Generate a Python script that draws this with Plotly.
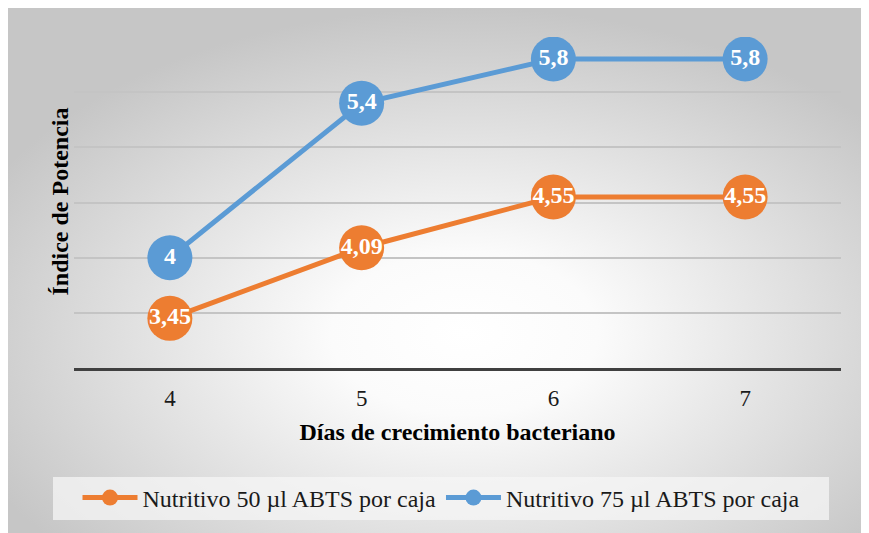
import base64
import plotly.graph_objects as go

dias = ["4", "5", "6", "7"]
serie_50 = [3.45, 4.09, 4.55, 4.55]
serie_75 = [4.0, 5.4, 5.8, 5.8]
nombre_50 = "Nutritivo 50 µl ABTS por caja"
nombre_75 = "Nutritivo 75 µl ABTS por caja"
titulo_x = "Días de crecimiento bacteriano"
titulo_y = "Índice de Potencia"

ORANGE = "#ED7D31"
BLUE = "#5B9BD5"
FONT = "Liberation Serif"

# page body adds an 8px offset; figure occupies the rest of the window
OFF = 8
W, H = 869 - OFF, 533 - OFF
L, R, T, B = 74 - OFF, 869 - 841, 37 - OFF, 533 - 368
pw, ph = W - L - R, H - T - B


def px_x(p):
    return (p - OFF - L) / pw


def px_y(p):
    return (H - B - (p - OFF)) / ph


def fmt(v):
    s = ("%.2f" % v).rstrip("0").rstrip(".")
    return s.replace(".", ",")


svg = (
    '<svg xmlns="http://www.w3.org/2000/svg" width="%d" height="%d" viewBox="0 0 %d %d" preserveAspectRatio="none">'
    '<defs><radialGradient id="g" cx="0.53" cy="0.62" r="0.62">'
    '<stop offset="0" stop-color="#ffffff"/>'
    '<stop offset="0.25" stop-color="#fbfbfb"/>'
    '<stop offset="1" stop-color="#c6c6c6"/>'
    '</radialGradient></defs>'
    '<rect x="0" y="0" width="%d" height="%d" fill="url(#g)"/></svg>'
) % (W, H, W, H, W, H)
src = "data:image/svg+xml;base64," + base64.b64encode(svg.encode()).decode()

fig = go.Figure()

for name, vals, col in [(nombre_50, serie_50, ORANGE), (nombre_75, serie_75, BLUE)]:
    fig.add_trace(go.Scatter(
        x=dias, y=vals, name=name, mode="lines+markers",
        line=dict(color=col, width=5),
        marker=dict(color=col, size=45),
    ))
for vals in [serie_50, serie_75]:
    fig.add_trace(go.Scatter(
        x=dias, y=vals, mode="text", showlegend=False, hoverinfo="skip",
        text=[fmt(v) for v in vals], textposition="middle center",
        textfont=dict(family=FONT, size=24, color="white", weight="bold"),
    ))

fig.update_layout(
    width=W, height=H,
    margin=dict(l=L, r=R, t=T, b=B),
    paper_bgcolor="#c8c8c8",
    plot_bgcolor="rgba(0,0,0,0)",
    font=dict(family=FONT, color="#1a1a1a"),
    showlegend=True,
    legend=dict(
        orientation="h", xanchor="center", yanchor="middle",
        x=px_x(441), y=px_y(498),
        bgcolor="rgba(0,0,0,0)",
        font=dict(family=FONT, size=24, color="#1a1a1a"),
        itemwidth=55, traceorder="normal",
    ),
    images=[dict(
        source=src, xref="paper", yref="paper",
        x=-L / pw, y=(H - B) / ph,
        sizex=W / pw, sizey=H / ph,
        xanchor="left", yanchor="top", sizing="stretch", layer="below",
    )],
    shapes=[dict(
        type="rect", xref="paper", yref="paper", layer="below",
        x0=px_x(53), x1=px_x(829),
        y0=px_y(520), y1=px_y(477),
        fillcolor="rgba(245,245,245,0.75)", line=dict(width=0),
    )],
    annotations=[dict(
        text=titulo_y, textangle=-90, showarrow=False,
        xref="paper", yref="paper", x=px_x(59.5), y=px_y(202),
        xanchor="center", yanchor="middle",
        font=dict(family=FONT, size=24, color="#000000", weight="bold"),
    )],
)

fig.update_xaxes(
    type="category", range=[-0.5, 3.5],
    showgrid=False, showline=True, linecolor="#404040", linewidth=3,
    ticks="outside", ticklen=7, tickcolor="rgba(0,0,0,0)",
    tickfont=dict(family=FONT, size=23, color="#1a1a1a"),
    title=dict(text=titulo_x, standoff=14,
               font=dict(family=FONT, size=24, color="#000000", weight="bold")),
)
fig.update_yaxes(
    range=[3, 6], dtick=0.5, showticklabels=False,
    showgrid=True, gridcolor="#c4c4c4", gridwidth=1.5,
    zeroline=False, showline=False,
)

fig.write_html("out.html")
